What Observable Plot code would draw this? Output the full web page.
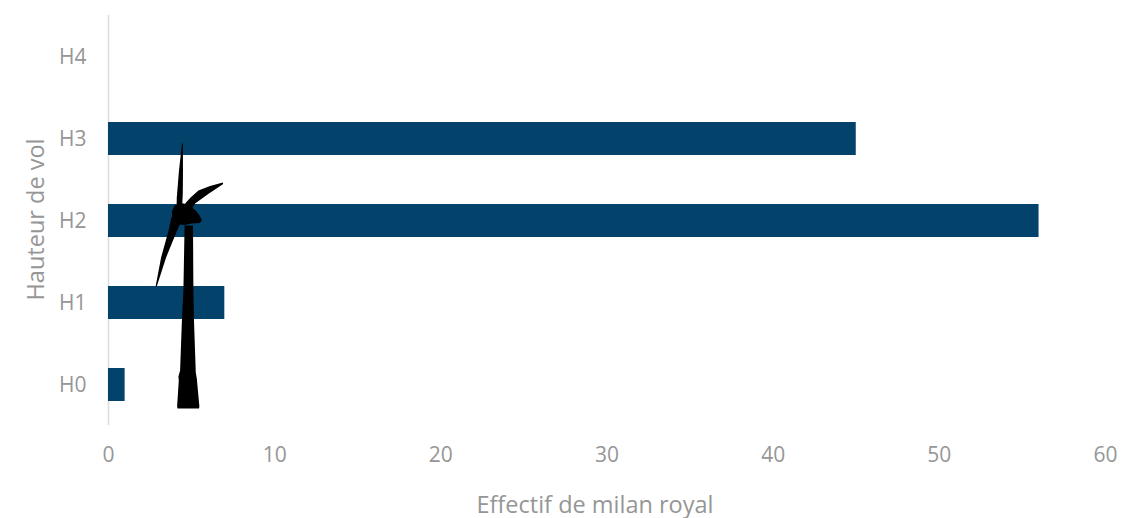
<!DOCTYPE html>
<html lang="fr">
<head>
<meta charset="utf-8">
<title>Effectif de milan royal par hauteur de vol</title>
<script src="https://cdn.jsdelivr.net/npm/d3@7"></script>
<script src="https://cdn.jsdelivr.net/npm/@observablehq/plot@0.6"></script>
<style>
  html, body { margin: 0; padding: 0; background: #fff; overflow: hidden; }
  svg { display: block; }
</style>
</head>
<body>
<div id="chart"></div>
<script>
// Flight-height classes, top to bottom, and the number of red kites in each.
const hauteurs = ["H4", "H3", "H2", "H1", "H0"];
const effectifs = [0, 45, 56, 7, 1];
const xTicks = [0, 10, 20, 30, 40, 50, 60];

const rows = hauteurs.map((hauteur, i) => ({hauteur, effectif: effectifs[i]}));

// Wind turbine silhouette, in pixels relative to the foot of the tower.
const turbineParts = [
  // tower
  [[-4, -183], [4.4, -183], [4.8, -118], [5.5, -85], [7.2, -36], [8.2, -30], [10.8, -2], [10.4, 0],
   [-11, 0], [-11.5, -2], [-9.8, -28], [-10.2, -32], [-8.5, -38], [-6.8, -85], [-5.2, -118]],
  // nacelle and hub
  [[-16.8, -197], [-14, -203], [-8, -205.5], [0, -204], [7, -198], [11, -193], [13.4, -188], [11, -185.5],
   [3, -185], [-4, -183.5], [-10, -184], [-14, -188], [-16.5, -192]],
  // upper blade
  [[-6.6, -265], [-5.7, -265], [-5.6, -238], [-5.8, -215], [-6.4, -203], [-12, -203], [-11.8, -211], [-9.6, -238]],
  // right blade
  [[-3.5, -205], [2, -211], [9.8, -218], [21.5, -222.5], [34.2, -226], [34.6, -224.5], [20, -214.7], [6.5, -205], [3, -199]],
  // lower blade
  [[-17, -192], [-8, -186], [-11.5, -178], [-22.5, -151], [-32, -121.5], [-33, -122], [-27.5, -151], [-20, -178]]
];
const turbineX = 4.85;

// Custom mark: places the silhouette on the chart through the chart's own scales.
function turbine(index, scales) {
  const footX = scales.x(turbineX);
  const footY = scales.y("H0") + scales.y.bandwidth() / 2 + 24;
  const g = d3.create("svg:g").attr("transform", `translate(${footX},${footY})`);
  g.selectAll("path")
    .data(turbineParts)
    .join("path")
    .attr("d", d3.line().curve(d3.curveLinearClosed))
    .attr("fill", "#000");
  return g.node();
}

const chart = Plot.plot({
  width: 1122,
  height: 518,
  marginLeft: 108,
  marginRight: 17,
  marginTop: 15,
  marginBottom: 93,
  style: {fontFamily: "'Open Sans', sans-serif", fontSize: "21px", color: "#969696", background: "#fff"},
  x: {domain: [0, 60], label: null},
  y: {domain: hauteurs, paddingInner: 0.6, paddingOuter: 0.3, label: null},
  marks: [
    Plot.ruleX([0], {stroke: "#dcdcdc", strokeWidth: 1.5}),
    Plot.barX(rows, {x: "effectif", y: "hauteur", fill: "#03426a"}),
    Plot.axisX({ticks: xTicks, tickSize: 0, tickPadding: 22, tickFormat: d => d, label: null, fontSize: 21}),
    Plot.axisY({tickSize: 0, tickPadding: 22, label: null, fontSize: 21}),
    Plot.text(["Effectif de milan royal"], {
      frameAnchor: "bottom", dx: -12, dy: 87, fontSize: 23.5, fill: "#969696", lineAnchor: "bottom"
    }),
    Plot.text(["Hauteur de vol"], {
      frameAnchor: "left", dx: -72, dy: -1, rotate: -90, fontSize: 23.5, fill: "#969696", textAnchor: "middle"
    }),
    turbine
  ]
});
document.getElementById("chart").append(chart);
</script>
</body>
</html>
